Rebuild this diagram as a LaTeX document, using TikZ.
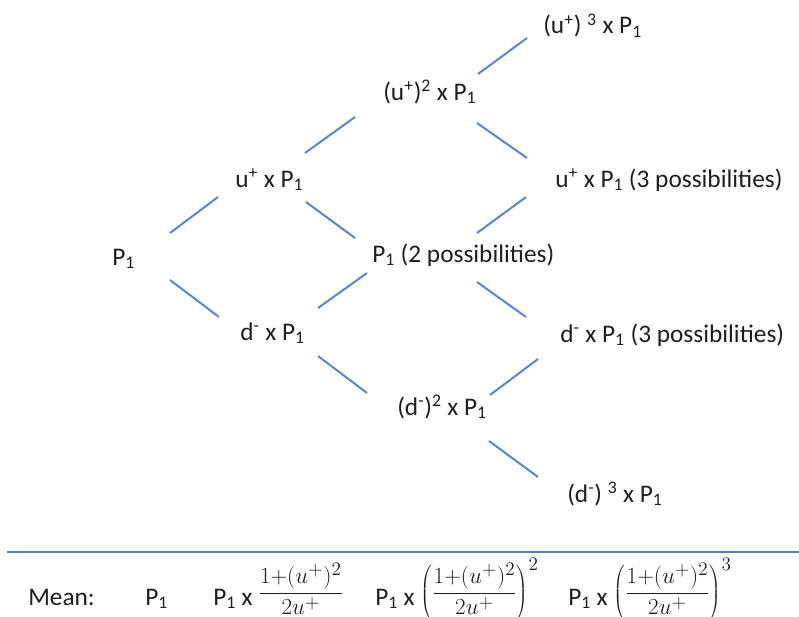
\documentclass[tikz,border=0pt]{standalone}
\usepackage{fontspec}
\setmainfont{Carlito}
\definecolor{linkblue}{RGB}{88,136,203}
\definecolor{ruleblue}{RGB}{79,129,189}
\definecolor{ink}{RGB}{30,30,30}
\newcommand{\lo}[1]{\textsubscript{#1}}
\newcommand{\hi}[1]{\textsuperscript{#1}}
\newcommand{\mathup}[1]{\raisebox{4.5pt}{$\displaystyle #1$}}
\newcommand{\ratio}{\frac{1{+}(u^+)^2}{2u^+}}
\begin{document}
\begin{tikzpicture}[x=0.75pt,y=-0.75pt,
  lbl/.style={anchor=base west,inner sep=0pt,font=\fontsize{19}{22}\selectfont,text=ink},
  link/.style={draw=linkblue,line width=1.5pt}]
\useasboundingbox (0,0) rectangle (799,617);
\fill[white] (0,0) rectangle (799,617);
% nodes
\node[lbl] (A) at (112,265) {P\lo{1}};
\node[lbl] (B) at (235,187) {u\hi{+} x P\lo{1}};
\node[lbl] (C) at (240,340) {d\hi{-} x P\lo{1}};
\node[lbl] (D) at (383,100) {(u\hi{+})\hi{2} x P\lo{1}};
\node[lbl] (E) at (372,262) {P\lo{1} (2 possibilities)};
\node[lbl] (F) at (397,415) {(d\hi{-})\hi{2} x P\lo{1}};
\node[lbl] (G) at (543,34) {(u\hi{+}) \hi{3} x P\lo{1}};
\node[lbl] (H) at (555,187) {u\hi{+} x P\lo{1} (3 possibilities)};
\node[lbl] (I) at (560,342) {d\hi{-} x P\lo{1} (3 possibilities)};
\node[lbl] (J) at (567,502) {(d\hi{-}) \hi{3} x P\lo{1}};
% connectors
\draw[link] ([shift={(58,-32)}]A.base west) -- ([shift={(-17,10)}]B.base west);
\draw[link] ([shift={(58,15)}]A.base west) -- ([shift={(-21,-23)}]C.base west);
\draw[link] ([shift={(70,-34)}]B.base west) -- ([shift={(-28,17)}]D.base west);
\draw[link] ([shift={(71,15)}]B.base west) -- ([shift={(-17,-24)}]E.base west);
\draw[link] ([shift={(78,-32)}]C.base west) -- ([shift={(-5,11)}]E.base west);
\draw[link] ([shift={(78,16)}]C.base west) -- ([shift={(-30,-22)}]F.base west);
\draw[link] ([shift={(95,-26)}]D.base west) -- ([shift={(-16,4)}]G.base west);
\draw[link] ([shift={(94,23)}]D.base west) -- ([shift={(-28,-29)}]H.base west);
\draw[link] ([shift={(105,-29)}]E.base west) -- ([shift={(-29,10)}]H.base west);
\draw[link] ([shift={(105,20)}]E.base west) -- ([shift={(-34,-25)}]I.base west);
\draw[link] ([shift={(93,-20)}]F.base west) -- ([shift={(-22,17)}]I.base west);
\draw[link] ([shift={(92,26)}]F.base west) -- ([shift={(-29,-25)}]J.base west);
% rule
\coordinate (rl) at (7,552);
\coordinate (rr) at (799,552);
\draw[draw=ruleblue,line width=2pt] (rl) -- (rr);
% mean row
\node[lbl] (m0) at (28,605) {Mean:};
\node[lbl] (m1) at (145,605) {P\lo{1}};
\node[lbl] (m2) at (213,605) {P\lo{1} x \mathup{\ratio}};
\node[lbl] (m3) at (375,605) {P\lo{1} x \mathup{\left(\ratio\right)^{2}}};
\node[lbl] (m4) at (568,605) {P\lo{1} x \mathup{\left(\ratio\right)^{3}}};
\end{tikzpicture}
\end{document}
